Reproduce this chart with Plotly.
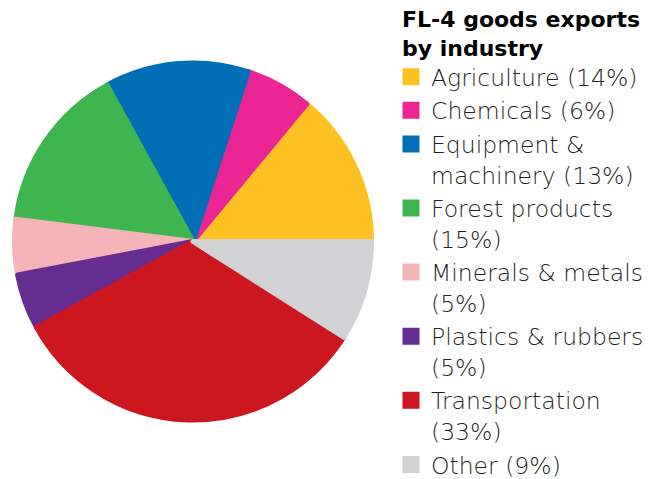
import plotly.graph_objects as go

industries = ["Agriculture", "Chemicals", "Equipment &<br>machinery", "Forest products<br>", "Minerals & metals<br>",
              "Plastics & rubbers<br>", "Transportation<br>", "Other"]
shares = [14, 6, 13, 15, 5, 5, 33, 9]
colors = ["#FDC121", "#EC2595", "#006FB7", "#3FB54F", "#F5B4B8", "#652D90", "#CC171F", "#D1D2D4"]
title_text = "FL-4 goods exports<br>by industry"

labels = []
for name, s in zip(industries, shares):
    sep = "" if name.endswith("<br>") else " "
    labels.append(f"{name}{sep}({s}%)")

W, H = 670, 479
OFF = 8  # page body margin in the browser


def fx(px):
    return (px - OFF) / W


def fy(py):
    return (H - (py - OFF)) / H


# first slice starts at 3 o'clock and runs counterclockwise
start_angle = 90 - shares[0] / sum(shares) * 360

fig = go.Figure(go.Pie(
    labels=labels,
    values=shares,
    marker=dict(colors=colors, line=dict(color=colors, width=5)),
    sort=False,
    direction="counterclockwise",
    rotation=start_angle,
    textinfo="none",
    hoverinfo="label",
    domain=dict(x=[fx(14.5), fx(371.5)], y=[fy(420.5), fy(62.5)]),
))

fig.update_layout(
    width=W, height=H,
    margin=dict(l=0, r=0, t=0, b=0),
    paper_bgcolor="white",
    plot_bgcolor="white",
    showlegend=True,
    title=dict(
        text=title_text,
        x=fx(402), xanchor="left", xref="paper",
        y=fy(27), yanchor="top", yref="container",
        font=dict(family="DejaVu Sans", size=22, color="#000000", weight="bold"),
    ),
    legend=dict(
        x=fx(391), xanchor="left",
        y=fy(65), yanchor="top",
        font=dict(family="DejaVu Sans", size=23.5, color="#231F20", weight=300),
        valign="top",
        itemclick=False,
        bgcolor="rgba(0,0,0,0)",
    ),
)

fig.write_html("out.html")
